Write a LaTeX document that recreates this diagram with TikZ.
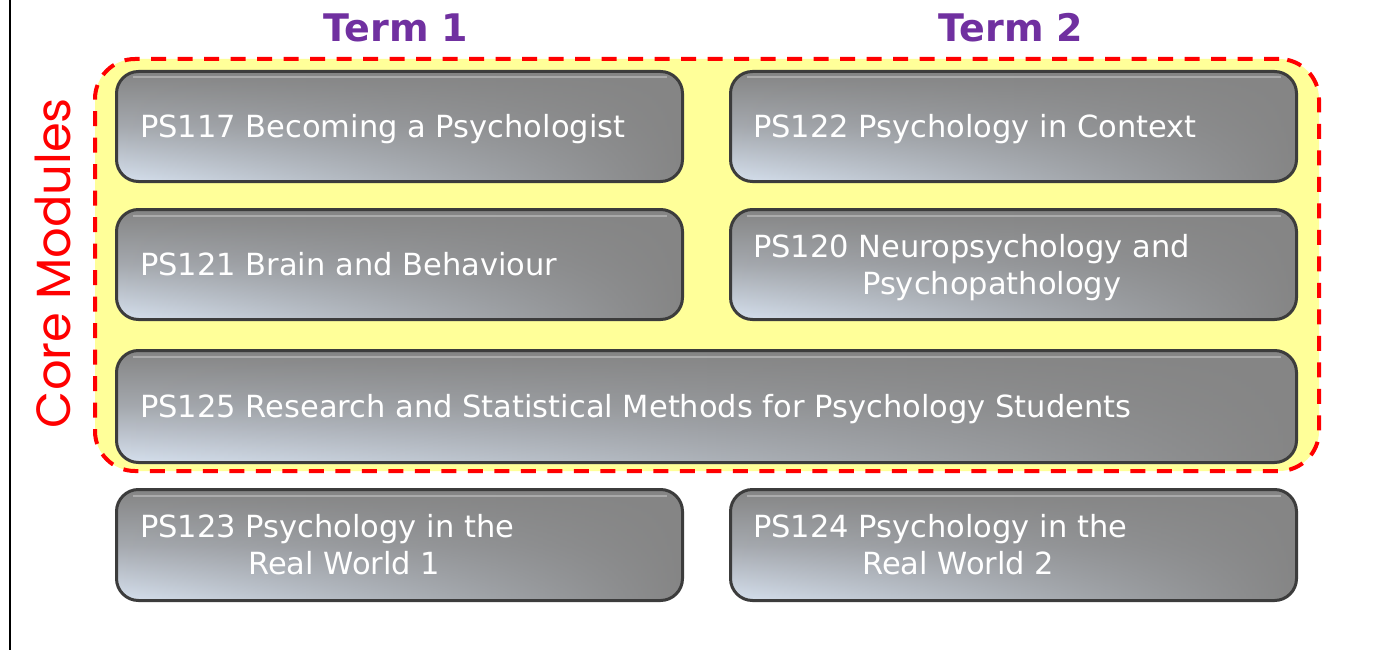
\documentclass[tikz,border=0pt]{standalone}
\usepackage{fontspec}
\setmainfont{DejaVu Sans}
\newfontfamily\corefont{Poppins}
\usetikzlibrary{fadings}
\definecolor{boxgray}{HTML}{858585}
\definecolor{boxedge}{HTML}{3C3C3C}
\definecolor{boxlight}{HTML}{D6E0EE}
\definecolor{zonefill}{HTML}{FFFF99}
\definecolor{termpurple}{HTML}{7030A0}
\tikzfading[name=faderight, left color=transparent!0, middle color=transparent!55, right color=transparent!100]
\begin{document}
\begin{tikzpicture}[x=1pt,y=-1pt,
  modbox/.style={draw=boxedge, line width=3pt, rounded corners=22pt, fill=boxgray,
    anchor=north west, inner sep=0pt,
    path picture={
      \shade[path fading=faderight, top color=boxgray, bottom color=boxlight, middle color=boxgray!60!boxlight]
        (path picture bounding box.south west) rectangle (path picture bounding box.north east);
      \draw[white, opacity=0.3, line width=2pt]
        ([xshift=16pt,yshift=-6pt]path picture bounding box.north west) --
        ([xshift=-16pt,yshift=-6pt]path picture bounding box.north east);
    }},
  modtext/.style={text=white, font=\fontsize{30.5}{37}\selectfont, anchor=base west, inner sep=0pt},
  termtext/.style={text=termpurple, font=\fontsize{38}{44}\selectfont\bfseries, anchor=base, inner sep=0pt},
  zone/.style={draw=red, line width=4pt, dash pattern=on 15pt off 11.5pt, fill=zonefill,
    rounded corners=40pt, anchor=north west, inner sep=0pt}
]
\useasboundingbox (0,0) rectangle (1375,650);
\fill[white] (0,0) rectangle (1375,650);
\draw[line width=2pt] (10,0) -- (10,650);

\node[termtext] (term1) at (396,42) {Term 1};
\node[termtext] (term2) at (1011,42) {Term 2};

\node[zone, minimum width=1224pt, minimum height=412pt] (zone) at (93,57) {};
\node[rotate=90, anchor=base, text=red, font=\corefont\fontsize{48}{58}\selectfont, inner sep=0pt] (core) at (70,263) {Core Modules};

\node[modbox, minimum width=566pt, minimum height=110pt] (b117) at (115,70) {};
\node[modbox, minimum width=566pt, minimum height=110pt] (b122) at (729,70) {};
\node[modbox, minimum width=566pt, minimum height=110pt] (b121) at (115,208) {};
\node[modbox, minimum width=566pt, minimum height=110pt] (b120) at (729,208) {};
\node[modbox, minimum width=1180pt, minimum height=112pt] (b125) at (115,349) {};
\node[modbox, minimum width=566pt, minimum height=111pt] (b123) at (115,488) {};
\node[modbox, minimum width=566pt, minimum height=111pt] (b124) at (729,488) {};

\node[modtext] (t117) at (140,137) {PS117 Becoming a Psychologist};
\node[modtext] (t122) at (753,137) {PS122 Psychology in Context};
\node[modtext] (t121) at (140,275) {PS121 Brain and Behaviour};
\node[modtext] (t120a) at (753,257) {PS120 Neuropsychology and};
\node[modtext] (t120b) at (862,294) {Psychopathology};
\node[modtext] (t125) at (140,417) {PS125 Research and Statistical Methods for Psychology Students};
\node[modtext] (t123a) at (140,537) {PS123 Psychology in the};
\node[modtext] (t123b) at (248,574) {Real World 1};
\node[modtext] (t124a) at (753,537) {PS124 Psychology in the};
\node[modtext] (t124b) at (862,574) {Real World 2};
\end{tikzpicture}
\end{document}
